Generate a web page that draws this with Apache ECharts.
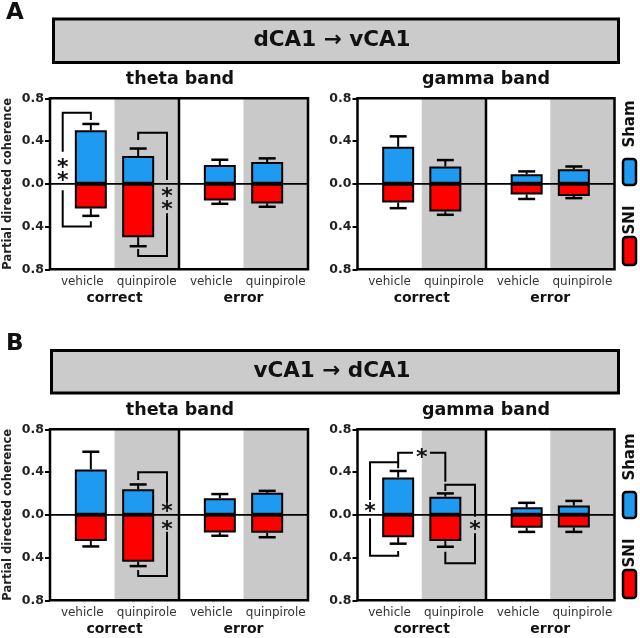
<!DOCTYPE html>
<html><head><meta charset="utf-8">
<script src="https://cdn.jsdelivr.net/npm/echarts@6/dist/echarts.min.js"></script>
<style>html,body{margin:0;padding:0;background:#fff}#c{width:640px;height:638px}</style>
</head><body><div id="c"></div>
<script>
// ---------- data ----------
const conditions = ['vehicle', 'quinpirole', 'vehicle', 'quinpirole'];
const outcomes = ['correct', 'error'];
const yTicks = [-0.8, -0.4, 0, 0.4, 0.8];
const groupNames = ['Sham', 'SNI'];
const panelTitles = ['dCA1 \u2192 vCA1', 'vCA1 \u2192 dCA1'];
const bandNames = ['theta band', 'gamma band'];

// A: dCA1 -> vCA1
const shamA_theta     = [0.50, 0.26, 0.175, 0.203];
const shamA_theta_err = [0.06, 0.07, 0.05, 0.035];
const sniA_theta      = [-0.23, -0.50, -0.156, -0.184];
const sniA_theta_err  = [0.07, 0.084, 0.031, 0.031];
const shamA_gamma     = [0.347, 0.163, 0.09, 0.135];
const shamA_gamma_err = [0.097, 0.059, 0.026, 0.027];
const sniA_gamma      = [-0.175, -0.259, -0.10, -0.113];
const sniA_gamma_err  = [0.053, 0.031, 0.042, 0.021];
// B: vCA1 -> dCA1
const shamB_theta     = [0.425, 0.238, 0.156, 0.206];
const shamB_theta_err = [0.165, 0.046, 0.038, 0.018];
const sniB_theta      = [-0.246, -0.44, -0.165, -0.168];
const sniB_theta_err  = [0.05, 0.04, 0.031, 0.042];
const shamB_gamma     = [0.35, 0.17, 0.07, 0.087];
const shamB_gamma_err = [0.06, 0.03, 0.042, 0.043];
const sniB_gamma      = [-0.21, -0.246, -0.12, -0.118];
const sniB_gamma_err  = [0.06, 0.053, 0.04, 0.042];

// significance brackets (value units; side = x position in column units)
const bracketsA_theta = [
  {bar: 0, side: 0.197, top: 0.665, bottom: -0.40, tickTop: 0.597, tickBot: -0.35, gap: [0.30, -0.06], stars: [0.197, 0.072]},
  {bar: 1, side: 1.814, top: 0.478, bottom: -0.675, tickTop: 0.41, tickBot: -0.61, gap: [0.035, -0.275], stars: [-0.075, -0.20]}
];
const bracketsB_theta = [
  {bar: 1, side: 1.814, top: 0.397, bottom: -0.573, tickTop: 0.326, tickBot: -0.516, gap: [0.113, -0.158], stars: [0.073, -0.095]}
];
const bracketsB_gamma = [
  {bar: 0, side: 0.195, top: 0.491, bottom: -0.383, tickTop: 0.435, tickBot: -0.339, gap: [0.138, -0.033], stars: [0.073]},
  {bar: 1, side: 1.829, top: 0.282, bottom: -0.454, tickTop: 0.223, tickBot: -0.345, gap: [-0.018, -0.173], stars: [-0.095]}
];
const crossB_gamma = [
  {from: 0, to: 1, y: 0.581, tickFrom: 0.491, tickTo: 0.31, gap: [0.864, 1.128], star: 1.0}
];

// ---------- layout / style ----------
const FONT = 'DejaVu Sans';
const BLUE = '#1e9bf0', RED = '#ff0000', GREY = '#c9c9c9';
const OFFSET = 0.133;
function barX(i) { return i + 0.5 + (i % 2 === 0 ? OFFSET : -OFFSET); }

const panels = [
  {sham: shamA_theta, shamErr: shamA_theta_err, sni: sniA_theta, sniErr: sniA_theta_err, brackets: bracketsA_theta, cross: [], grid: {left: 50, top: 98.3, width: 258, height: 171}},
  {sham: shamA_gamma, shamErr: shamA_gamma_err, sni: sniA_gamma, sniErr: sniA_gamma_err, brackets: [], cross: [], grid: {left: 357.5, top: 98.3, width: 257, height: 171}},
  {sham: shamB_theta, shamErr: shamB_theta_err, sni: sniB_theta, sniErr: sniB_theta_err, brackets: bracketsB_theta, cross: [], grid: {left: 50, top: 429.3, width: 258, height: 171}},
  {sham: shamB_gamma, shamErr: shamB_gamma_err, sni: sniB_gamma, sniErr: sniB_gamma_err, brackets: bracketsB_gamma, cross: crossB_gamma, grid: {left: 357.5, top: 429.3, width: 257, height: 171}}
];

const grids = [], xAxes = [], yAxes = [], series = [];
const shadedCols = conditions.map((c, i) => i).filter(i => conditions[i] === 'quinpirole');

panels.forEach((p, k) => {
  grids.push(Object.assign({show: false, containLabel: false}, p.grid));
  const xv = xAxes.length;
  xAxes.push({gridIndex: k, type: 'value', min: 0, max: conditions.length, show: false});
  xAxes.push({gridIndex: k, type: 'category', data: conditions, position: 'bottom',
    axisLine: {show: false}, axisTick: {show: false}, splitLine: {show: false},
    axisLabel: {margin: 7, fontFamily: FONT, fontSize: 12, color: '#333', interval: 0}});
  xAxes.push({gridIndex: k, type: 'category', data: outcomes, position: 'bottom',
    axisLine: {show: false}, axisTick: {show: false}, splitLine: {show: false},
    axisLabel: {margin: 22, fontFamily: FONT, fontSize: 14, fontWeight: 'bold', color: '#111', interval: 0}});
  yAxes.push({gridIndex: k, type: 'value', min: yTicks[0], max: yTicks[yTicks.length - 1], interval: 0.4,
    axisLine: {show: false}, splitLine: {show: false},
    axisTick: {show: true, length: 5, lineStyle: {color: '#000', width: 2}},
    axisLabel: {margin: 6, fontFamily: FONT, fontSize: 12.5, fontWeight: 'bold', color: '#222',
      formatter: v => Math.abs(v).toFixed(1)},
    name: k % 2 === 0 ? 'Partial directed coherence' : '',
    nameLocation: 'middle', nameGap: 36, nameRotate: 90,
    nameTextStyle: {fontFamily: FONT, fontSize: 11.5, fontWeight: 'bold', color: '#222'}});

  // grey shading for quinpirole columns
  series.push({type: 'custom', xAxisIndex: xv, yAxisIndex: k, z: 1, silent: true,
    data: shadedCols.map(i => [i, 0]),
    renderItem: (params, api) => {
      const a = api.coord([api.value(0), yTicks[yTicks.length - 1]]);
      const b = api.coord([api.value(0) + 1, yTicks[0]]);
      return {type: 'rect', shape: {x: a[0], y: a[1], width: b[0] - a[0], height: b[1] - a[1]}, style: {fill: GREY}};
    }});

  // bars
  series.push({type: 'bar', name: 'Sham', xAxisIndex: xv, yAxisIndex: k, stack: 's' + k, z: 2,
    barWidth: 32, data: p.sham.map((v, i) => [barX(i), v]),
    itemStyle: {color: BLUE, borderColor: '#000', borderWidth: 2}});
  series.push({type: 'bar', name: 'SNI', xAxisIndex: xv, yAxisIndex: k, stack: 's' + k, z: 2,
    barWidth: 32, data: p.sni.map((v, i) => [barX(i), v]),
    itemStyle: {color: RED, borderColor: '#000', borderWidth: 2}});

  // error bars
  const errData = [];
  p.sham.forEach((v, i) => errData.push([barX(i), v, v + p.shamErr[i]]));
  p.sni.forEach((v, i) => errData.push([barX(i), v, v - p.sniErr[i]]));
  series.push({type: 'custom', xAxisIndex: xv, yAxisIndex: k, z: 3, silent: true, data: errData,
    encode: {x: 0, y: [1, 2]},
    renderItem: (params, api) => {
      const p0 = api.coord([api.value(0), api.value(1)]);
      const p1 = api.coord([api.value(0), api.value(2)]);
      return {type: 'group', children: [
        {type: 'line', shape: {x1: p0[0], y1: p0[1], x2: p1[0], y2: p1[1]}, style: {stroke: '#000', lineWidth: 2}},
        {type: 'line', shape: {x1: p1[0] - 8.5, y1: p1[1], x2: p1[0] + 8.5, y2: p1[1]}, style: {stroke: '#000', lineWidth: 2.5}}
      ]};
    }});

  // zero line, divider, frame
  series.push({type: 'custom', xAxisIndex: xv, yAxisIndex: k, z: 4, silent: true, data: [[0, 0]],
    renderItem: (params, api) => {
      const cs = params.coordSys;
      const z0 = api.coord([0, 0]);
      const dv = api.coord([conditions.length / 2, 0]);
      return {type: 'group', children: [
        {type: 'line', shape: {x1: cs.x, y1: z0[1], x2: cs.x + cs.width, y2: z0[1]}, style: {stroke: '#000', lineWidth: 1.8}},
        {type: 'line', shape: {x1: dv[0], y1: cs.y, x2: dv[0], y2: cs.y + cs.height}, style: {stroke: '#000', lineWidth: 2.5}},
        {type: 'rect', shape: {x: cs.x, y: cs.y, width: cs.width, height: cs.height}, style: {fill: 'none', stroke: '#000', lineWidth: 2.5}}
      ]};
    }});

  // significance brackets
  const STAR = 22;
  if (p.brackets.length) {
    const br = p.brackets;
    series.push({type: 'custom', xAxisIndex: xv, yAxisIndex: k, z: 5, silent: true,
      data: br.map(b => [barX(b.bar), b.top]),
      renderItem: (params, api) => {
        const b = br[params.dataIndex];
        const bx = barX(b.bar);
        const c = (x, y) => api.coord([x, y]);
        const st = {stroke: '#000', lineWidth: 2, fill: 'none'};
        const kids = [
          {type: 'polyline', shape: {points: [c(bx, b.tickTop), c(bx, b.top), c(b.side, b.top), c(b.side, b.gap[0])]}, style: st},
          {type: 'polyline', shape: {points: [c(b.side, b.gap[1]), c(b.side, b.bottom), c(bx, b.bottom), c(bx, b.tickBot)]}, style: st}
        ];
        b.stars.forEach(s => {
          const q = c(b.side, s);
          kids.push({type: 'text', x: q[0], y: q[1] + 0.24 * STAR, style: {text: '*', fontFamily: FONT, fontSize: STAR, fontWeight: 'bold', fill: '#111', align: 'center', verticalAlign: 'middle'}});
        });
        return {type: 'group', children: kids};
      }});
  }
  if (p.cross.length) {
    const cr = p.cross;
    series.push({type: 'custom', xAxisIndex: xv, yAxisIndex: k, z: 5, silent: true,
      data: cr.map(b => [barX(b.from), b.y]),
      renderItem: (params, api) => {
        const b = cr[params.dataIndex];
        const x0 = barX(b.from), x1 = barX(b.to);
        const c = (x, y) => api.coord([x, y]);
        const st = {stroke: '#000', lineWidth: 2, fill: 'none'};
        const q = c(b.star, b.y);
        return {type: 'group', children: [
          {type: 'polyline', shape: {points: [c(x0, b.tickFrom), c(x0, b.y), c(b.gap[0], b.y)]}, style: st},
          {type: 'polyline', shape: {points: [c(b.gap[1], b.y), c(x1, b.y), c(x1, b.tickTo)]}, style: st},
          {type: 'text', x: q[0], y: q[1] + 0.24 * STAR, style: {text: '*', fontFamily: FONT, fontSize: STAR, fontWeight: 'bold', fill: '#111', align: 'center', verticalAlign: 'middle'}}
        ]};
      }});
  }
});

// ---------- titles, boxes, legends ----------
const titles = [];
const graphics = [];
const rows = [{label: 'A', labelTop: 2, boxTop: 17.5, boxH: 43.5, boxL: 52, boxW: 565, bandTop: 70, legTop: 98},
              {label: 'B', labelTop: 333, boxTop: 349, boxH: 42.5, boxL: 50, boxW: 567, bandTop: 401, legTop: 431}];
rows.forEach((r, ri) => {
  titles.push({text: r.label, left: 6, top: r.labelTop, padding: 0,
    textStyle: {fontFamily: FONT, fontSize: 23, fontWeight: 'bold', color: '#111'}});
  titles.push({text: bandNames[0], left: 180, top: r.bandTop, padding: 0, textAlign: 'center',
    textStyle: {fontFamily: FONT, fontSize: 17.5, fontWeight: 'bold', color: '#111'}});
  titles.push({text: bandNames[1], left: 486, top: r.bandTop, padding: 0, textAlign: 'center',
    textStyle: {fontFamily: FONT, fontSize: 17.5, fontWeight: 'bold', color: '#111'}});
  graphics.push({type: 'rect', left: r.boxL, top: r.boxTop, shape: {width: r.boxW, height: r.boxH},
    style: {fill: '#cbcbcb', stroke: '#000', lineWidth: 3}});
  graphics.push({type: 'text', x: 332, y: r.boxTop + r.boxH / 2 + 1,
    style: {text: panelTitles[ri], fontFamily: FONT, fontSize: 21.5, fontWeight: 'bold', fill: '#111', align: 'center', verticalAlign: 'middle'}});
  // legend (rotated, reading bottom to top)
  const L = r.legTop;
  graphics.push({type: 'text', x: 630, y: L + 26, rotation: Math.PI / 2,
    style: {text: groupNames[0], fontFamily: FONT, fontSize: 15, fontWeight: 'bold', fill: '#111', align: 'center', verticalAlign: 'middle'}});
  graphics.push({type: 'rect', shape: {x: 623, y: L + 61, width: 13, height: 26, r: 3},
    style: {fill: BLUE, stroke: '#000', lineWidth: 2.5}});
  graphics.push({type: 'text', x: 630, y: L + 122, rotation: Math.PI / 2,
    style: {text: groupNames[1], fontFamily: FONT, fontSize: 15, fontWeight: 'bold', fill: '#111', align: 'center', verticalAlign: 'middle'}});
  graphics.push({type: 'rect', shape: {x: 623, y: L + 139, width: 13, height: 28, r: 3},
    style: {fill: RED, stroke: '#000', lineWidth: 2.5}});
});

const chart = echarts.init(document.getElementById('c'));
chart.setOption({
  animation: false,
  backgroundColor: '#fff',
  title: titles,
  grid: grids,
  xAxis: xAxes,
  yAxis: yAxes,
  series: series,
  graphic: graphics
});
</script></body></html>
